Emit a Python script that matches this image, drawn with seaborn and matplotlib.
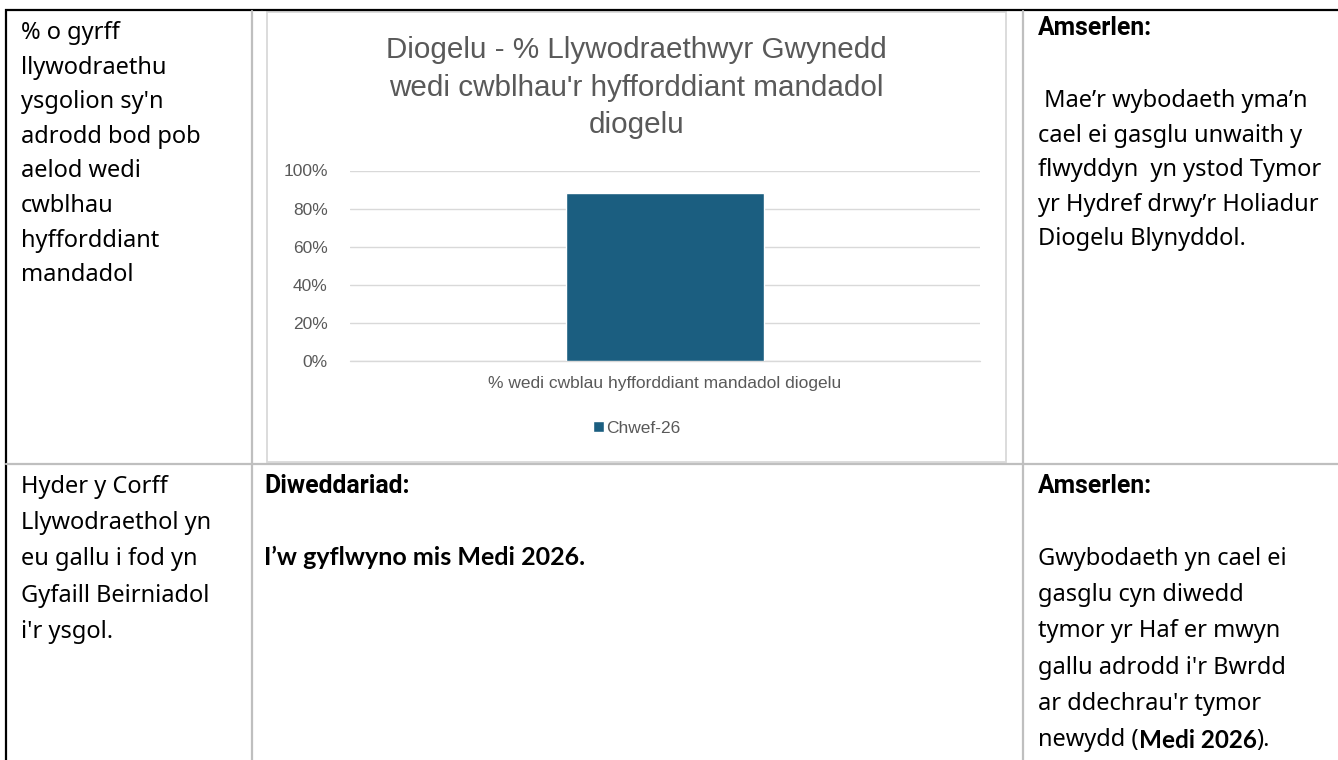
import matplotlib
matplotlib.use("Agg")
import matplotlib.pyplot as plt
from matplotlib.patches import Rectangle
import seaborn as sns
import pandas as pd

# chart values
categories = ["% wedi cwblau hyfforddiant mandadol diogelu"]
periods = ["Chwef-26"]
values = [0.88]
y_ticks = [0, 0.2, 0.4, 0.6, 0.8, 1.0]
y_tick_labels = ["0%", "20%", "40%", "60%", "80%", "100%"]
title_lines = ["Diogelu - % Llywodraethwyr Gwynedd",
               "wedi cwblhau'r hyfforddiant mandadol",
               "diogelu"]

# table texts
row1_measure = ["% o gyrff", "llywodraethu", "ysgolion sy'n", "adrodd bod pob",
                "aelod wedi", "cwblhau", "hyfforddiant", "mandadol"]
timing_head = "Amserlen:"
row1_timing = [" Mae’r wybodaeth yma’n", "cael ei gasglu unwaith y",
               "flwyddyn  yn ystod Tymor", "yr Hydref drwy’r Holiadur",
               "Diogelu Blynyddol."]
row2_measure = ["Hyder y Corff", "Llywodraethol yn", "eu gallu i fod yn",
                "Gyfaill Beirniadol", "i'r ysgol."]
update_head = "Diweddariad:"
row2_update = "I’w gyflwyno mis Medi 2026."
row2_timing = ["Gwybodaeth yn cael ei", "gasglu cyn diwedd", "tymor yr Haf er mwyn",
               "gallu adrodd i'r Bwrdd", "ar ddechrau'r tymor"]
row2_timing_last = ["newydd (", "Medi 2026", ")."]

W, H = 1338, 760
bar_color = "#1b5e80"
grey_txt = "#595959"
body_font = ["Noto Sans", "DejaVu Sans"]
bold_font = ["Lato", "DejaVu Sans"]
head_font = ["Roboto", "DejaVu Sans"]

sns.set_style("white")
plt.rcParams['font.family'] = ['Liberation Sans', 'DejaVu Sans']
plt.rcParams['text.color'] = "black"

fig = plt.figure(figsize=(W / 100, H / 100), dpi=100)

# page layer in pixel coordinates
page = fig.add_axes([0, 0, 1, 1])
page.set_xlim(0, W)
page.set_ylim(H, 0)
page.axis("off")

# table grid
page.plot([5, W], [9.5, 9.5], color="black", lw=1.6, solid_capstyle="butt")
page.plot([5.5, 5.5], [9, H], color="black", lw=1.6, solid_capstyle="butt")
for xc in [252, 1023]:
    page.plot([xc, xc], [10.5, H], color="#bfbfbf", lw=1.6)
page.plot([6, W], [463.5, 463.5], color="#bfbfbf", lw=1.6)

# chart frame
page.add_patch(Rectangle((267, 12), 1006 - 267, 462 - 12, fill=False,
                         edgecolor="#d9d9d9", lw=1.3))

# left column
for i, s in enumerate(row1_measure):
    page.text(21, 39 + 34.6 * i, s, va="baseline", fontsize=17, family=body_font)
for i, s in enumerate(row2_measure):
    page.text(21, 493 + 36.2 * i, s, va="baseline", fontsize=17, family=body_font)

# right column, top row
page.text(1038, 35, timing_head, va="baseline", fontsize=17.8,
          fontweight="bold", family=head_font)
for i, s in enumerate(row1_timing):
    page.text(1038, 107 + 34.6 * i, s, va="baseline", fontsize=17, family=body_font)

# bottom row
page.text(264, 493, update_head, va="baseline", fontsize=17.8,
          fontweight="bold", family=head_font)
page.text(264, 565, row2_update, va="baseline", fontsize=18,
          fontweight="bold", family=bold_font)
page.text(1038, 493, timing_head, va="baseline", fontsize=17.8,
          fontweight="bold", family=head_font)
for i, s in enumerate(row2_timing):
    page.text(1038, 565 + 36.2 * i, s, va="baseline", fontsize=17, family=body_font)

last_y = 565 + 36.2 * len(row2_timing)
t = page.text(1038, last_y, row2_timing_last[0], va="baseline", fontsize=17,
              family=body_font)
t = page.annotate(row2_timing_last[1], xy=(1, 0), xycoords=t, va="bottom",
                  ha="left", fontsize=17.5, family=bold_font, fontweight="bold")
t = page.annotate(row2_timing_last[2], xy=(1, 0), xycoords=t, va="bottom",
                  ha="left", fontsize=17, family=body_font)

# chart title
for i, s in enumerate(title_lines):
    page.text(636.5, 58 + 37.5 * i, s, ha="center", va="baseline",
              fontsize=21.3, color=grey_txt)

# bar chart
ax = fig.add_axes([350 / W, 1 - 361 / H, 630 / W, 190.5 / H])
ax.set_facecolor("none")
df = pd.DataFrame({"category": categories, "period": periods, "value": values})
sns.barplot(data=df, x="category", y="value", hue="period", palette=[bar_color],
            width=0.313, saturation=1, ax=ax)
ax.set_ylim(0, 1)
ax.set_yticks(y_ticks)
ax.set_yticklabels(y_tick_labels)
ax.yaxis.grid(True, color="#d9d9d9", lw=1.0)
ax.axhline(0, color="#d9d9d9", lw=1.0, clip_on=False, zorder=0)
ax.set_axisbelow(True)
sns.despine(ax=ax, left=True, bottom=True)
ax.tick_params(axis="both", length=0, labelsize=12.5, labelcolor=grey_txt)
ax.tick_params(axis="y", pad=16)
ax.tick_params(axis="x", pad=11)
ax.set_xlabel("")
ax.set_ylabel("")
sns.move_legend(ax, "center", bbox_to_anchor=(0.4548, -0.352), frameon=False,
                title=None, handlelength=0.63, handleheight=0.63,
                handletextpad=0.15, fontsize=12.5, labelcolor=grey_txt)

fig.savefig("out.png", dpi=100)
